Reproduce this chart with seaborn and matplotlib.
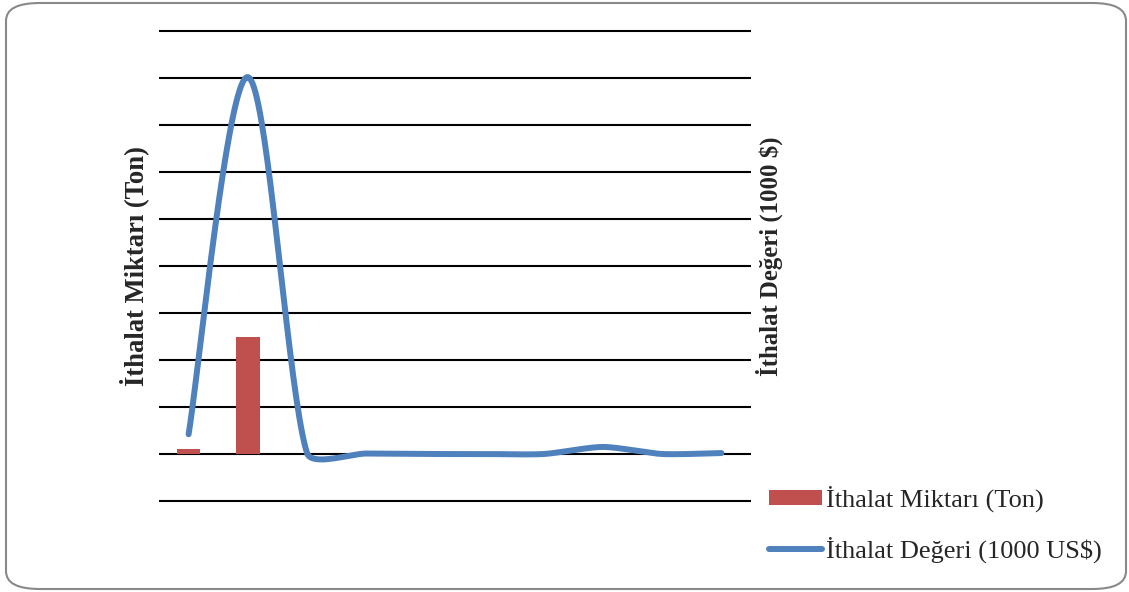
import numpy as np
import pandas as pd
import matplotlib
matplotlib.use("Agg")
import matplotlib.pyplot as plt
from matplotlib.patches import FancyBboxPatch, Patch
from matplotlib.lines import Line2D
import seaborn as sns

# Data (no tick labels visible, units estimated)
years = ["2005", "2006", "2007", "2008", "2009", "2010", "2011", "2012", "2013", "2014"]
miktar_ton = [53, 1245, 5, 0, 0, 0, 0, 3, 0, 2]
deger_1000usd = [420, 8020, 20, 10, 0, 0, 0, 150, 0, 20]

bar_color = "#C0504D"
line_color = "#4F81BD"

W, H = 1129, 592
ax_px = (159, 29, 751, 503)  # left, top, right, bottom in pixels (2px margin round the grid)
margin = 2 / 47  # fraction of one grid step, keeps edge gridlines unclipped


def smooth_xy(x, y, sx, sy, n=40, cap=0.25):
    """Excel-like smoothed line (Bezier, control points capped on short segments).
    sx, sy: pixels per data unit, so distances are measured as on screen."""
    P = np.column_stack([np.asarray(x, float) * sx, np.asarray(y, float) * sy])
    P = np.vstack([P[0], P, P[-1]])
    t = np.linspace(0, 1, n)[:, None]
    out = []
    for i in range(1, len(P) - 2):
        p0, p1, p2, p3 = P[i - 1], P[i], P[i + 1], P[i + 2]
        d02 = np.linalg.norm(p2 - p0)
        d12 = np.linalg.norm(p2 - p1)
        d13 = np.linalg.norm(p3 - p1)
        f0 = 1 / 6 if d02 / 6 < d12 * cap else d12 * cap / d02
        f1 = 1 / 6 if d13 / 6 < d12 * cap else d12 * cap / d13
        c1 = p1 + (p2 - p0) * f0
        c2 = p2 - (p3 - p1) * f1
        b = (1 - t) ** 3 * p1 + 3 * (1 - t) ** 2 * t * c1 + 3 * (1 - t) * t ** 2 * c2 + t ** 3 * p2
        out.append(b)
    out = np.vstack(out)
    return out[:, 0] / sx, out[:, 1] / sy


sns.set_theme(style="white")
plt.rcParams["font.family"] = ["Liberation Serif", "DejaVu Serif"]

fig = plt.figure(figsize=(W / 100, H / 100), dpi=100)
l, t_, r, b_ = ax_px
ax = fig.add_axes([l / W, 1 - b_ / H, (r - l) / W, (b_ - t_) / H])

df = pd.DataFrame({"yil": years, "miktar": miktar_ton})
sns.barplot(data=df, x="yil", y="miktar", color=bar_color, width=0.4,
            saturation=1, linewidth=0, edgecolor="none", ax=ax, zorder=3)
ax.set_ylim(-500 - 500 * margin, 4500 + 500 * margin)
ax.set_yticks(np.arange(-500, 4501, 500))
ax.set_xlim(-0.5, len(years) - 0.5)
ax.yaxis.grid(True, color="black", linewidth=1.5, zorder=0)
ax.set_axisbelow(True)
ax.set_xticks([])
ax.set_yticklabels([])
ax.set_xlabel("")
ax.set_ylabel("İthalat Miktarı (Ton)", fontsize=19.2, fontweight="bold")
ax.yaxis.set_label_coords(-0.017, 0.5)
for s in ax.spines.values():
    s.set_visible(False)

ax2 = ax.twinx()
px_x = (r - l) / len(years)
px_y = 47 / 1000
sx, sy = smooth_xy(range(len(years)), deger_1000usd, px_x, px_y)
ax2.plot(sx, sy, color=line_color, linewidth=4.3, solid_capstyle="round", zorder=4)
ax2.set_ylim(-1000 - 1000 * margin, 9000 + 1000 * margin)
ax2.set_yticks([])
ax2.set_ylabel("İthalat Değeri (1000 $)", fontsize=17.8, fontweight="bold")
ax2.yaxis.set_label_coords(1.007, 0.521)
for s in ax2.spines.values():
    s.set_visible(False)
for a in (ax, ax2):
    a.tick_params(axis="both", length=0, left=False, right=False, bottom=False)

handles = [Patch(facecolor=bar_color, edgecolor="none"),
           Line2D([0], [0], color=line_color, linewidth=4.3, solid_capstyle="round")]
fig.legend(handles, ["İthalat Miktarı (Ton)", "İthalat Değeri (1000 US$)"],
           loc="upper left", bbox_to_anchor=(769 / W, 1 - 486 / H),
           frameon=False, fontsize=19, handlelength=2.0, handleheight=0.5,
           handletextpad=0.15, labelspacing=0.92, borderaxespad=0, borderpad=0)

frame = FancyBboxPatch((6 / W, 3 / H), 1120 / W, 586 / H,
                       boxstyle="round,pad=0,rounding_size=0.03",
                       transform=fig.transFigure, facecolor="none",
                       edgecolor="#898989", linewidth=1.5)
fig.patches.append(frame)

fig.savefig("out.png", dpi=100)
